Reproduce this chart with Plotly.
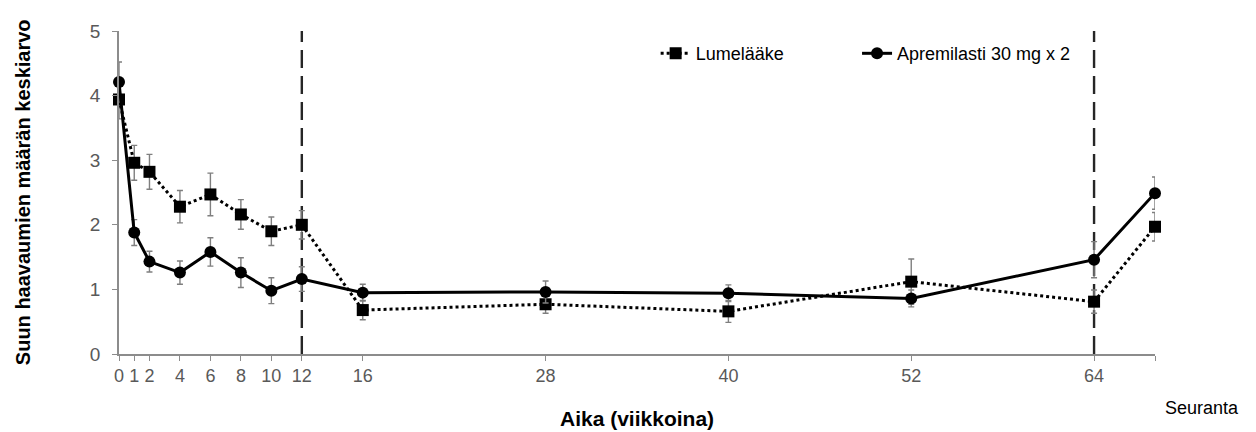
import plotly.graph_objects as go

weeks = [0, 1, 2, 4, 6, 8, 10, 12, 16, 28, 40, 52, 64, 68]
tick_labels = ["0", "1", "2", "4", "6", "8", "10", "12", "16", "28", "40", "52", "64", ""]

placebo = [3.94, 2.96, 2.82, 2.28, 2.47, 2.16, 1.90, 2.00, 0.68, 0.77, 0.66, 1.12, 0.81, 1.97]
placebo_err = [0.30, 0.27, 0.27, 0.25, 0.33, 0.23, 0.22, 0.22, 0.15, 0.14, 0.17, 0.35, 0.18, 0.22]

apremilast = [4.21, 1.88, 1.43, 1.26, 1.58, 1.26, 0.98, 1.16, 0.95, 0.96, 0.94, 0.86, 1.46, 2.49]
apremilast_err = [0.31, 0.20, 0.16, 0.18, 0.22, 0.23, 0.20, 0.19, 0.13, 0.17, 0.13, 0.13, 0.28, 0.25]

phase_weeks = [12, 64]

FONT = "Liberation Sans, Arial, sans-serif"

fig = go.Figure()

fig.add_trace(go.Scatter(
    x=weeks, y=placebo, name="Lumelääke", mode="lines+markers",
    line=dict(color="black", width=3, dash="dot"),
    marker=dict(symbol="square", size=12, color="black"),
    error_y=dict(type="data", array=placebo_err, color="#7f7f7f", thickness=1.4, width=3),
    cliponaxis=False, legend="legend",
))
fig.add_trace(go.Scatter(
    x=weeks, y=apremilast, name="Apremilasti 30 mg x 2", mode="lines+markers",
    line=dict(color="black", width=3),
    marker=dict(symbol="circle", size=12, color="black"),
    error_y=dict(type="data", array=apremilast_err, color="#7f7f7f", thickness=1.4, width=3),
    cliponaxis=False, legend="legend2",
))

for w in phase_weeks:
    fig.add_shape(type="line", xref="x", yref="y", x0=w, x1=w, y0=0, y1=5,
                  line=dict(color="#262626", width=2.4, dash="18px,8px"), layer="below")

fig.add_annotation(text="<b>Aika (viikkoina)</b>", xref="paper", yref="paper",
                   x=0.5, y=-0.2, yanchor="middle", xanchor="center", showarrow=False,
                   font=dict(family=FONT, size=21, color="black"))
fig.add_annotation(text="<b>Suun haavaumien määrän keskiarvo</b>", xref="paper", yref="paper",
                   x=-0.093, y=0.5, xanchor="center", yanchor="middle", textangle=-90,
                   showarrow=False, font=dict(family=FONT, size=20, color="black"))
fig.add_annotation(text="Seuranta", xref="paper", yref="paper",
                   x=1.045, y=-0.167, xanchor="center", yanchor="middle", showarrow=False,
                   font=dict(family=FONT, size=18, color="black"))

legend_style = dict(orientation="h", y=0.93, xanchor="left", yanchor="middle",
                    bgcolor="rgba(0,0,0,0)", font=dict(family=FONT, size=18, color="black"))

fig.update_layout(
    width=1256, height=432,
    margin=dict(l=119, r=101, t=31, b=78),
    paper_bgcolor="white", plot_bgcolor="white",
    font=dict(family=FONT, size=17, color="black"),
    showlegend=True,
    legend=dict(x=0.518, **legend_style),
    legend2=dict(x=0.7124, **legend_style),
    xaxis=dict(range=[0, 68], tickmode="array", tickvals=weeks, ticktext=tick_labels,
               showgrid=False, zeroline=False, showline=True, linecolor="#8c8c8c", linewidth=1.5,
               ticks="outside", ticklen=5, tickcolor="#8c8c8c",
               tickfont=dict(family=FONT, size=18, color="#595959")),
    yaxis=dict(range=[0, 5], tickvals=[0, 1, 2, 3, 4, 5],
               showgrid=False, zeroline=False, showline=True, linecolor="#8c8c8c", linewidth=1.5,
               ticks="outside", ticklen=5, tickcolor="#8c8c8c", ticklabelstandoff=8,
               tickfont=dict(family=FONT, size=19, color="#595959")),
)

fig.write_html("out.html", config={"displayModeBar": False},
               post_script="document.body.style.margin='0';")
